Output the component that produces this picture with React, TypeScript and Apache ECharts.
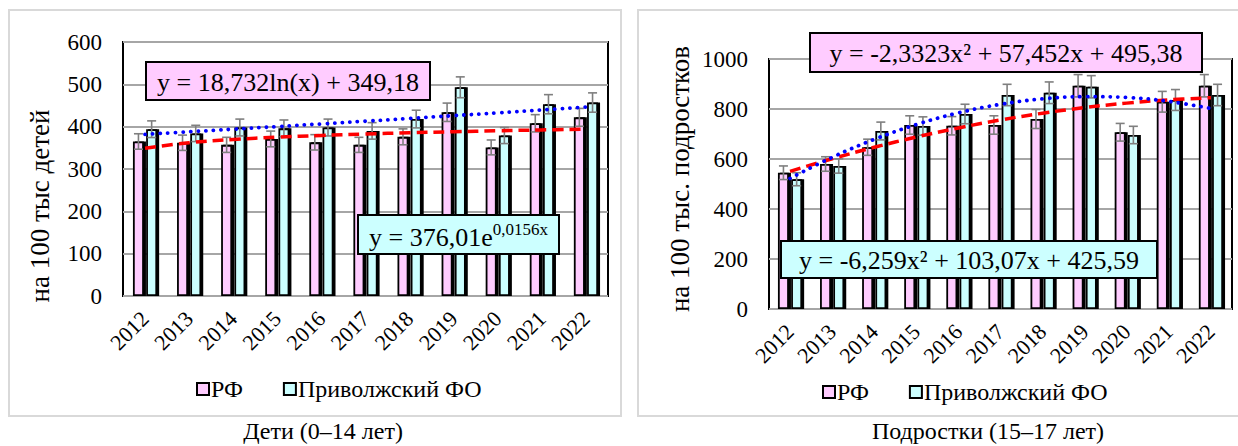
import React, { useEffect, useRef } from "react";
import * as echarts from "echarts";

const years = ["2012", "2013", "2014", "2015", "2016", "2017", "2018", "2019", "2020", "2021", "2022"];

// Дети (0–14 лет)
const childrenRF = [365, 362, 357, 371, 363, 357, 376, 434, 351, 408, 422];
const childrenPFO = [394, 384, 398, 396, 398, 390, 418, 493, 379, 453, 457];
// trend values (log trend for РФ, exponential for ПФО)
const childrenRFTrend = [349.2, 362.2, 369.8, 375.2, 379.3, 382.7, 385.6, 388.1, 390.3, 392.3, 394.1];
const childrenPFOTrend = [381.9, 387.9, 394.0, 400.2, 406.5, 412.9, 419.4, 426.0, 432.7, 439.5, 446.4];

// Подростки (15–17 лет)
const teenRF = [545, 580, 647, 736, 733, 736, 760, 893, 707, 829, 893];
const teenPFO = [519, 572, 712, 732, 780, 856, 865, 889, 696, 836, 856];
const teenRFTrend = [550.5, 601.0, 646.8, 687.9, 724.3, 756.1, 783.3, 805.7, 823.5, 836.7, 845.1];
const teenPFOTrend = [522.4, 606.7, 678.5, 737.7, 784.5, 818.7, 840.4, 849.6, 846.2, 830.4, 802.0];

const seriesNames = ["РФ", "Приволжский ФО"];
const errorPercent = 5; // error bars: percentage of value

const FONT = "Liberation Serif";
const PINK = "#ffccff";
const CYAN = "#ccffff";

function errSeries(values: number[], axis: number, offset: number) {
  return {
    type: "custom",
    xAxisIndex: axis,
    yAxisIndex: axis,
    z: 3,
    silent: true,
    data: values.map((v, i) => [i, v]),
    encode: { x: 0, y: 1 },
    renderItem: (_params: any, api: any) => {
      const i = api.value(0);
      const v = api.value(1);
      const e = (v * errorPercent) / 100;
      const p1 = api.coord([i, v + e]);
      const p2 = api.coord([i, v - e]);
      const x = p1[0] + offset;
      const st = { stroke: "#7f7f7f", lineWidth: 1.6, fill: "none" };
      return {
        type: "group",
        children: [
          { type: "line", shape: { x1: x, y1: p1[1], x2: x, y2: p2[1] }, style: st },
          { type: "line", shape: { x1: x - 4.5, y1: p1[1], x2: x + 4.5, y2: p1[1] }, style: st },
          { type: "line", shape: { x1: x - 4.5, y1: p2[1], x2: x + 4.5, y2: p2[1] }, style: st },
        ],
      };
    },
  };
}

function barSeries(name: string, values: number[], axis: number, color: string) {
  return {
    name,
    type: "bar",
    xAxisIndex: axis,
    yAxisIndex: axis,
    barWidth: 11,
    barGap: "20%",
    z: 2,
    data: values,
    itemStyle: {
      color,
      borderColor: "#000",
      borderWidth: 1.8,
      shadowColor: "#000",
      shadowOffsetX: 2,
      shadowOffsetY: 0,
      shadowBlur: 0,
    },
  };
}

function trendSeries(name: string, values: number[], axis: number, kind: "dash" | "dot") {
  return {
    name,
    type: "line",
    xAxisIndex: axis,
    yAxisIndex: axis,
    z: 4,
    silent: true,
    smooth: 0.4,
    showSymbol: false,
    symbol: "none",
    data: values,
    lineStyle:
      kind === "dash"
        ? { color: "#ff0000", width: 3.5, type: [11, 6] }
        : { color: "#0000ff", width: 3.8, type: [0.1, 7.5], cap: "round" },
  };
}

function xAxis(grid: number) {
  return {
    type: "category",
    gridIndex: grid,
    data: years,
    boundaryGap: true,
    axisLine: { show: false },
    axisTick: { show: false },
    axisLabel: {
      interval: 0,
      rotate: 45,
      margin: 19,
      fontFamily: FONT,
      fontSize: 22,
      color: "#000",
    },
  };
}

function yAxis(grid: number, max: number, interval: number) {
  return {
    type: "value",
    gridIndex: grid,
    min: 0,
    max,
    interval,
    axisLine: { show: false },
    axisTick: { show: false },
    axisLabel: {
      margin: 21,
      fontFamily: FONT,
      fontSize: 23,
      color: "#000",
      formatter: (v: number) => String(v),
    },
    splitLine: { show: true, lineStyle: { color: "#a6a6a6", width: 2 } },
  };
}

function txt(x: number, y: number, text: string, size: number, rotation = 0, z = 50) {
  return {
    type: "text",
    z,
    x,
    y,
    rotation,
    style: {
      text,
      fontFamily: FONT,
      fontSize: size,
      fill: "#000",
      textAlign: "center",
      textVerticalAlign: "middle",
      align: "center",
      verticalAlign: "middle",
    },
  };
}

function eqBox(x: number, y: number, w: number, h: number, fill: string, text: string, rich?: any) {
  const t: any = txt(x + w / 2, y + h / 2 + 1, text, 26, 0, 101);
  if (rich) t.style.rich = rich;
  return {
    type: "group",
    z: 100,
    children: [
      {
        type: "rect",
        z: 100,
        shape: { x, y, width: w, height: h },
        style: { fill, stroke: "#000", lineWidth: 2 },
      },
      t,
    ],
  };
}

function legend(left: number, top: number) {
  return {
    data: seriesNames,
    left,
    top,
    orient: "horizontal",
    itemWidth: 12,
    itemHeight: 12,
    itemGap: 40,
    icon: "rect",
    selectedMode: false,
    itemStyle: { borderColor: "#000", borderWidth: 2, shadowBlur: 0, shadowOffsetX: 0 },
    textStyle: { fontFamily: FONT, fontSize: 24, color: "#000", padding: [0, 0, 0, -3] },
  };
}

export default function App() {
  const ref = useRef<HTMLDivElement>(null);
  useEffect(() => {
    if (!ref.current) return;
    const chart = echarts.init(ref.current, undefined, { renderer: "svg" });
    const option: any = {
      animation: false,
      backgroundColor: "#fff",
      textStyle: { fontFamily: FONT },
      grid: [
        { left: 123, top: 42, width: 485, height: 254, show: true, borderColor: "#000", borderWidth: 2, backgroundColor: "transparent", containLabel: false },
        { left: 769, top: 59, width: 463, height: 250, show: true, borderColor: "#000", borderWidth: 2, backgroundColor: "transparent", containLabel: false },
      ],
      legend: [legend(191, 372), legend(817, 375)],
      xAxis: [xAxis(0), xAxis(1)],
      yAxis: [yAxis(0, 600, 100), yAxis(1, 1000, 200)],
      series: [
        barSeries(seriesNames[0], childrenRF, 0, PINK),
        barSeries(seriesNames[1], childrenPFO, 0, CYAN),
        errSeries(childrenRF, 0, -6.6),
        errSeries(childrenPFO, 0, 6.6),
        trendSeries("Логарифмическая (РФ)", childrenRFTrend, 0, "dash"),
        trendSeries("Экспоненциальная (ПФО)", childrenPFOTrend, 0, "dot"),
        barSeries(seriesNames[0], teenRF, 1, PINK),
        barSeries(seriesNames[1], teenPFO, 1, CYAN),
        errSeries(teenRF, 1, -6.6),
        errSeries(teenPFO, 1, 6.6),
        trendSeries("Полиномиальная (РФ)", teenRFTrend, 1, "dash"),
        trendSeries("Полиномиальная (ПФО)", teenPFOTrend, 1, "dot"),
      ],
      graphic: [
        { type: "rect", z: -10, shape: { x: 9, y: 10, width: 612, height: 406 }, style: { fill: "none", stroke: "#d9d9d9", lineWidth: 2 } },
        { type: "rect", z: -10, shape: { x: 638, y: 10, width: 612, height: 406 }, style: { fill: "none", stroke: "#d9d9d9", lineWidth: 2 } },
        txt(40, 206, "на 100 тыс детей", 27, Math.PI / 2),
        txt(680, 179, "на 100 тыс. подростков", 27, Math.PI / 2),
        txt(323, 431, "Дети (0–14 лет)", 24),
        txt(988, 431, "Подростки (15–17 лет)", 24),
        eqBox(146, 62, 284, 38, PINK, "y = 18,732ln(x) + 349,18"),
        eqBox(358, 215, 201, 39, CYAN, "{b|y = 376,01e}{s|0,0156x}", {
          b: { fontFamily: FONT, fontSize: 26, lineHeight: 30, fill: "#000", verticalAlign: "bottom" },
          s: { fontFamily: FONT, fontSize: 17, lineHeight: 17, fill: "#000", verticalAlign: "top" },
        }),
        eqBox(810, 33, 392, 39, PINK, "y = -2,3323x² + 57,452x + 495,38"),
        eqBox(781, 241, 376, 37, CYAN, "y = -6,259x² + 103,07x + 425,59"),
      ],
    };
    chart.setOption(option);
    return () => chart.dispose();
  }, []);
  return <div ref={ref} style={{ position: "absolute", left: 0, top: 0, width: 1238, height: 446 }} />;
}
